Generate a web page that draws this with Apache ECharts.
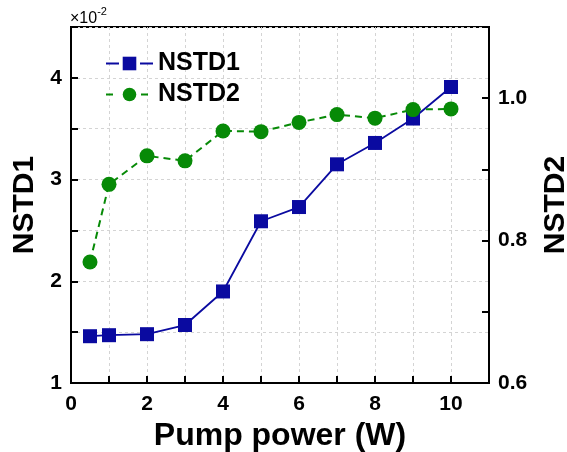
<!DOCTYPE html>
<html>
<head>
<meta charset="utf-8">
<script src="https://cdn.jsdelivr.net/npm/echarts@6/dist/echarts.min.js"></script>
<style>
  html, body { margin: 0; padding: 0; background: #fff; }
  #chart { width: 567px; height: 452px; }
</style>
</head>
<body>
<div id="chart"></div>
<script>
// Pump power (W) at each measurement
const powerW = [0.5, 1, 2, 3, 4, 5, 6, 7, 8, 9, 10];
// NSTD1, in units of 1e-2
const nstd1 = [1.46, 1.47, 1.48, 1.57, 1.90, 2.59, 2.73, 3.15, 3.36, 3.60, 3.91];
// NSTD2
const nstd2 = [0.770, 0.879, 0.919, 0.912, 0.954, 0.953, 0.966, 0.977, 0.972, 0.984, 0.985];

const xLabels = [0, 2, 4, 6, 8, 10];
const leftLabels = [1, 2, 3, 4];
const rightLabels = [0.6, 0.8, 1.0];

const FONT = "'Liberation Sans', Arial, sans-serif";
const BLUE = '#0a0aa0';
const GREEN = '#078a07';

function near(list, v) {
  return list.some(t => Math.abs(t - v) < 1e-6);
}

const chart = echarts.init(document.getElementById('chart'), null, { renderer: 'canvas' });

const gridDash = { show: true, lineStyle: { color: '#d4d4d4', type: [3, 3], width: 1 } };
const tickLabel = { color: '#000', fontFamily: FONT, fontWeight: 'bold', fontSize: 21 };
const titleStyle = { color: '#000', fontFamily: FONT, fontWeight: 'bold', fontSize: 30 };

chart.setOption({
  animation: false,
  backgroundColor: '#fff',
  textStyle: { fontFamily: FONT },
  grid: {
    left: 71, right: 78, top: 27, bottom: 69,
    containLabel: false, outerBoundsMode: 'none',
    show: true, borderColor: '#000', borderWidth: 2
  },
  legend: {
    left: 100, top: 46, orient: 'vertical', itemGap: 6,
    itemWidth: 47, itemHeight: 17,
    textStyle: { color: '#000', fontFamily: FONT, fontWeight: 'bold', fontSize: 25 },
    data: [
      // line pieces on either side of the marker, leaving a gap around it
      { name: 'NSTD1', lineStyle: { type: [13, 21], width: 1.8 } },
      { name: 'NSTD2', lineStyle: { type: [7, 28], width: 2 } }
    ]
  },
  xAxis: {
    type: 'value', min: 0, max: 11, interval: 1,
    name: 'Pump power (W)', nameLocation: 'middle', nameGap: 36,
    nameTextStyle: Object.assign({}, titleStyle, { fontSize: 32 }),
    axisLine: { lineStyle: { color: '#000', width: 2 } },
    axisTick: { inside: true, length: 7, lineStyle: { color: '#000', width: 2 } },
    axisLabel: Object.assign({}, tickLabel, {
      margin: 11,
      formatter: v => (near(xLabels, v) ? String(v) : '')
    }),
    splitLine: gridDash
  },
  yAxis: [
    {
      type: 'value', min: 1, max: 4.5, interval: 0.5, position: 'left',
      name: 'NSTD1', nameLocation: 'middle', nameGap: 30,
      nameTextStyle: titleStyle,
      axisLine: { show: true, lineStyle: { color: '#000', width: 2 } },
      axisTick: { show: true, inside: true, length: 7, lineStyle: { color: '#000', width: 2 } },
      axisLabel: Object.assign({}, tickLabel, {
        margin: 9,
        formatter: v => (near(leftLabels, v) ? String(Math.round(v)) : '')
      }),
      splitLine: gridDash
    },
    {
      type: 'value', min: 0.6, max: 1.1, interval: 0.1, position: 'right',
      name: 'NSTD2', nameLocation: 'middle', nameGap: 52,
      nameTextStyle: titleStyle,
      axisLine: { show: true, lineStyle: { color: '#000', width: 2 } },
      axisTick: { show: true, inside: true, length: 7, lineStyle: { color: '#000', width: 2 } },
      axisLabel: Object.assign({}, tickLabel, {
        margin: 9,
        formatter: v => (near(rightLabels, v) ? v.toFixed(1) : '')
      }),
      splitLine: { show: false }
    }
  ],
  graphic: [
    {
      type: 'text', left: 70, top: 6,
      style: {
        text: '{a|×10}{b|-2}',
        rich: {
          a: { fontFamily: FONT, fontSize: 16, fill: '#000', padding: [6, 0, 0, 0] },
          b: { fontFamily: FONT, fontSize: 11, fill: '#000', padding: [0, 0, 8, 0] }
        }
      }
    }
  ],
  series: [
    {
      name: 'NSTD1', type: 'line', yAxisIndex: 0,
      data: powerW.map((x, i) => [x, nstd1[i]]),
      symbol: 'rect', symbolSize: 14,
      itemStyle: { color: BLUE },
      lineStyle: { color: BLUE, width: 1.8 }
    },
    {
      name: 'NSTD2', type: 'line', yAxisIndex: 1,
      data: powerW.map((x, i) => [x, nstd2[i]]),
      symbol: 'circle', symbolSize: 15,
      itemStyle: { color: GREEN },
      lineStyle: { color: GREEN, width: 2, type: [7, 5] }
    }
  ]
});
</script>
</body>
</html>
